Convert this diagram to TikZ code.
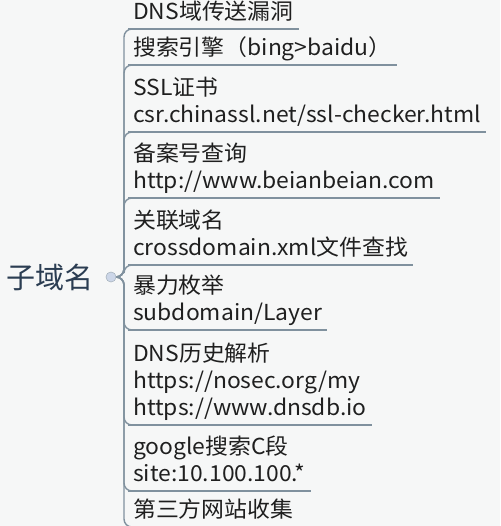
\documentclass[tikz,border=0pt]{standalone}
\usepackage{fontspec}
\newfontfamily\cjk{Noto Sans CJK SC}
\newfontfamily\cjkwide[FakeStretch=1.04]{Noto Sans CJK SC}
\usetikzlibrary{positioning}
\definecolor{mgrey}{rgb}{0.5, 0.57, 0.62}
\definecolor{mroot}{rgb}{0.17, 0.24, 0.32}
\definecolor{mhub}{rgb}{0.8, 0.84, 0.91}
\definecolor{mpaper}{rgb}{0.965, 0.97, 0.97}
\tikzset{item/.style = {anchor = south west, align = left, inner xsep = 5, inner ysep = 2,
                        text depth = 7, font = \cjkwide\fontsize{22}{27}\selectfont, text = black!88}}
\tikzset{branch/.style = {draw = mgrey, line width = 1.4, rounded corners = 8}}
\tikzset{uline/.style = {draw = mgrey, line width = 2}}
\tikzset{hub/.style = {circle, draw = mgrey!70, fill = mhub, inner sep = 0, minimum size = 10}}

\begin{document}
\begin{tikzpicture}[x = 1pt, y = -1pt]
    \fill [mpaper] (0, 0) rectangle (500, 526);
    \useasboundingbox (0, 0) rectangle (500, 526);

    \node [font = \cjk\fontsize{29}{34}\selectfont, text = mroot] (root) at (50, 277) {子域名};
    \node [hub] (hub) at (111, 277) {};
    \coordinate (fork) at (124, 277);

    \node [item] (dns) at (128, 29) {DNS域传送漏洞};
    \node [item] (engine) at (128, 65) {搜索引擎（bing>baidu）};
    \node [item] (ssl) at (128, 132) {SSL证书\\csr.chinassl.net/ssl-checker.html};
    \node [item] (beian) at (128, 198) {备案号查询\\http://www.beianbeian.com};
    \node [item] (cross) at (128, 265) {关联域名\\crossdomain.xml文件查找};
    \node [item] (brute) at (128, 330) {暴力枚举\\subdomain/Layer};
    \node [item] (history) at (128, 425) {DNS历史解析\\https://nosec.org/my\\https://www.dnsdb.io};
    \node [item] (google) at (128, 491) {google搜索C段\\site:10.100.100.*};
    \node [item] (third) at (128, 527) {第三方网站收集};

    \foreach \n in {dns, engine, ssl, beian, cross, brute, history, google, third} {
      \draw [branch] (hub.east) -- (fork) |- (\n.south west);
      \draw [uline] (\n.south west) -- (\n.south east);
    }
    \node [hub] at (hub) {};
  \end{tikzpicture}
\end{document}
